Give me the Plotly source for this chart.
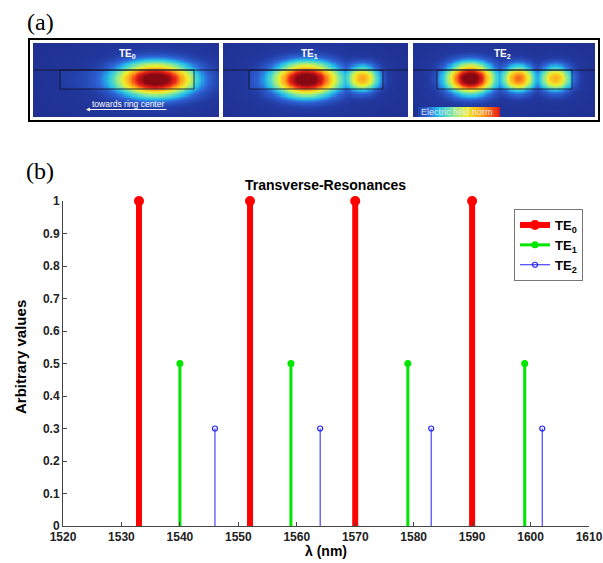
import numpy as np
import plotly.graph_objects as go

W, H = 603, 563

# ---------------- data (panel b) ----------------
te0_wavelength = [1533, 1552, 1570, 1590]
te0_value = [1, 1, 1, 1]
te1_wavelength = [1540, 1559, 1579, 1599]
te1_value = [0.5, 0.5, 0.5, 0.5]
te2_wavelength = [1546, 1564, 1583, 1602]
te2_value = [0.3, 0.3, 0.3, 0.3]
x_tick_values = [1520, 1530, 1540, 1550, 1560, 1570, 1580, 1590, 1600, 1610]
y_tick_values = [0, 0.1, 0.2, 0.3, 0.4, 0.5, 0.6, 0.7, 0.8, 0.9, 1]
y_tick_labels = ["0", "0.1", "0.2", "0.3", "0.4", "0.5", "0.6", "0.7", "0.8", "0.9", "1"]

# ---------------- mode images (panel a) ----------------
mode_labels = ["TE<sub>0</sub>", "TE<sub>1</sub>", "TE<sub>2</sub>"]
# lobes: (center x, center y, relative amplitude, width x, width y) in image pixels
mode_lobes = [
    [(155, 79, 1.0, 25, 11)],
    [(306, 79, 1.0, 21, 11), (362, 78, 0.60, 11, 9)],
    [(470, 78, 1.0, 15, 10), (518, 78, 0.68, 11, 9), (555, 78, 0.58, 11, 9)],
]
panel_x = [(33, 219), (223, 408), (413, 595)]
panel_y = (43, 117)
guide_x = [(60, 194), (249, 383), (437, 572)]
guide_y = (70, 89)

def px(x):
    return x / W

def py(y):
    return 1 - y / H

field_scale = [
    [0.00, "rgb(30,42,135)"],
    [0.10, "rgb(34,58,162)"],
    [0.20, "rgb(45,100,215)"],
    [0.30, "rgb(35,195,235)"],
    [0.42, "rgb(130,232,160)"],
    [0.55, "rgb(238,240,45)"],
    [0.70, "rgb(255,160,25)"],
    [0.85, "rgb(232,30,22)"],
    [1.00, "rgb(135,8,18)"],
]

def note(text, x, y, size, color="black", family="Arial, Liberation Sans", **kw):
    d = dict(text=text, x=px(x), y=py(y), xref="paper", yref="paper", showarrow=False,
             xanchor="center", yanchor="middle", font=dict(family=family, size=size, color=color))
    d.update(kw)
    return d

fig = go.Figure()
shapes = []
annotations = []
layout_axes = {}

for i in range(3):
    ax = i + 2
    x0, x1 = panel_x[i]
    y0, y1 = panel_y
    xs = np.linspace(x0, x1, 160)
    ys = np.linspace(y0, y1, 70)
    X, Y = np.meshgrid(xs, ys)
    peak = np.zeros_like(X)
    glow = np.zeros_like(X)
    for (cx, cy, a, sx, sy) in mode_lobes[i]:
        g = a * np.exp(-0.5 * ((X - cx) / sx) ** 2 - 0.5 * ((Y - cy) / sy) ** 2)
        peak = np.maximum(peak, g)
        glow = np.maximum(glow, a * np.exp(-0.5 * ((X - cx) / (sx * 2.3)) ** 2 - 0.5 * ((Y - cy) / (sy * 2.3)) ** 2))
    gx0, gx1 = guide_x[i]
    inside = ((X > gx0) & (X < gx1) & (Y > guide_y[0]) & (Y < guide_y[1])).astype(float)
    Z = 0.04 + 0.92 * peak + 0.09 * glow + 0.04 * inside
    fig.add_trace(go.Heatmap(
        x=xs, y=ys, z=Z, colorscale=field_scale, zmin=0, zmax=1, showscale=False,
        zsmooth="best", hoverinfo="skip", xaxis=f"x{ax}", yaxis=f"y{ax}"))
    layout_axes[f"xaxis{ax}"] = dict(domain=[px(x0), px(x1)], range=[x0, x1], visible=False,
                                     anchor=f"y{ax}", fixedrange=True, automargin=False)
    layout_axes[f"yaxis{ax}"] = dict(domain=[py(y1), py(y0)], range=[y1, y0], visible=False,
                                     anchor=f"x{ax}", fixedrange=True, automargin=False)
    # slab line and waveguide rectangle
    shapes.append(dict(type="line", xref=f"x{ax}", yref=f"y{ax}", x0=x0, x1=x1,
                       y0=guide_y[0], y1=guide_y[0], line=dict(color="rgba(20,20,40,0.85)", width=1)))
    shapes.append(dict(type="rect", xref=f"x{ax}", yref=f"y{ax}", x0=gx0, x1=gx1,
                       y0=guide_y[0], y1=guide_y[1], line=dict(color="rgba(20,20,40,0.85)", width=1)))
    cx_lab = [127, 309, 502][i]
    annotations.append(note("<b>" + mode_labels[i] + "</b>", cx_lab, 54, 10, color="white"))

# colour bar strip in third image
cb_x = np.linspace(418.5, 499.5, 60)
cb_y = np.array([109.5, 114.5])
fig.add_trace(go.Heatmap(
    x=cb_x, y=cb_y, z=[np.linspace(0.12, 0.86, 60), np.linspace(0.12, 0.86, 60)],
    colorscale=field_scale, zmin=0, zmax=1, showscale=False, zsmooth="best",
    hoverinfo="skip", xaxis="x4", yaxis="y4"))
annotations.append(note("Electric field norm", 419, 112, 9, color="rgba(235,235,245,0.95)", xanchor="left"))
# arrow in first image
annotations.append(note("towards ring center", 128, 104, 8.5, color="white"))
annotations.append(dict(text="", x=86, y=109.5, ax=168, ay=109.5, xref="x2", yref="y2",
                        axref="x2", ayref="y2", showarrow=True, arrowhead=2, arrowsize=0.8,
                        arrowwidth=1, arrowcolor="white"))

# outer frame of panel (a)
shapes.append(dict(type="rect", xref="paper", yref="paper", x0=px(29), x1=px(599), y0=py(121), y1=py(39),
                   line=dict(color="black", width=2), layer="below"))

# panel labels
annotations.append(note("(a)", 40, 22, 24, family="Liberation Serif, Times New Roman"))
annotations.append(note("(b)", 40, 171, 24, family="Liberation Serif, Times New Roman"))

# axis titles and chart title
annotations.append(note("<b>Transverse-Resonances</b>", 325, 185, 14))
annotations.append(note("<b>λ (nm)</b>", 326, 551, 14))
annotations.append(note("<b>Arbitrary values</b>", 20, 357, 15, textangle=-90))

# ---------------- stem plot (panel b) ----------------
series = [
    ("TE<sub>0</sub>", te0_wavelength, te0_value, "#ff0000", 6, dict(size=10, symbol="circle", color="#ff0000")),
    ("TE<sub>1</sub>", te1_wavelength, te1_value, "#00e600", 3, dict(size=7, symbol="circle", color="#00e600")),
    ("TE<sub>2</sub>", te2_wavelength, te2_value, "#2020ff", 1,
     dict(size=5, symbol="circle-open", color="#2020ff", line=dict(width=1.2, color="#2020ff"))),
]
for name, xs, ys, col, lw, mk in series:
    sx, sy = [], []
    for xv, yv in zip(xs, ys):
        sx += [xv, xv, None]
        sy += [0, yv, None]
    fig.add_trace(go.Scatter(x=sx, y=sy, mode="lines", line=dict(color=col, width=lw),
                             showlegend=False, hoverinfo="skip", cliponaxis=False))
    fig.add_trace(go.Scatter(x=xs, y=ys, mode="markers", marker=mk, showlegend=False,
                             cliponaxis=False))
    fig.add_trace(go.Scatter(x=[None], y=[None], mode="lines+markers", name="<b>" + name + "</b>",
                             line=dict(color=col, width=lw), marker=mk))

axis_font = dict(family="Arial, Liberation Sans", size=12, color="#222222", weight="bold")
fig.update_layout(
    width=W, height=H,
    margin=dict(l=0, r=0, t=0, b=0),
    paper_bgcolor="white", plot_bgcolor="white",
    showlegend=True,
    xaxis=dict(domain=[px(63), px(589)], range=[1520, 1610], tickvals=x_tick_values,
               ticks="inside", ticklen=4, tickcolor="#444", showline=True, linecolor="#444",
               linewidth=1, showgrid=False, zeroline=False, tickfont=axis_font,
               anchor="y", fixedrange=True, automargin=False),
    yaxis=dict(domain=[py(526), py(201)], range=[0, 1], tickvals=y_tick_values, ticktext=y_tick_labels,
               ticks="inside", ticklen=4, tickcolor="#444", showline=True, linecolor="#444",
               linewidth=1, showgrid=False, zeroline=False, tickfont=axis_font,
               anchor="x", fixedrange=True, automargin=False),
    legend=dict(x=px(514), y=py(209), xanchor="left", yanchor="top", bgcolor="white",
                bordercolor="#777", borderwidth=1, itemwidth=30, tracegroupgap=0,
                font=dict(family="Arial, Liberation Sans", size=13, color="black")),
    shapes=shapes,
    annotations=annotations,
    **layout_axes,
)

fig.write_html("out.html")
